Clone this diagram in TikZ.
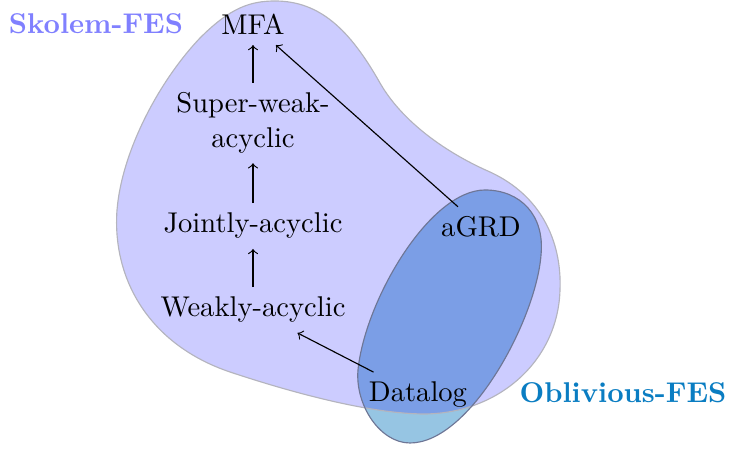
\documentclass[tikz,border=0pt]{standalone}
\definecolor{skolemfill}{RGB}{204,204,255}
\definecolor{oblfill}{RGB}{150,197,227}
\definecolor{overlapfill}{RGB}{123,158,230}
\definecolor{skolemtext}{RGB}{128,128,255}
\definecolor{obltext}{RGB}{10,125,194}
\definecolor{blobline}{RGB}{180,180,190}
\definecolor{ellline}{RGB}{110,118,150}
\begin{document}
\begin{tikzpicture}[x=0.35pt,y=-0.35pt,
  cls/.style={inner sep=3.33pt},
  regtitle/.style={font=\bfseries, inner sep=0pt},
  link/.style={->, line width=0.4pt}]
\useasboundingbox (0,0) rectangle (729,451);
% Skolem-FES region
\fill[skolemfill] (275,1) .. controls (320,1) and (350,30) .. (380,83)
  .. controls (400,118) and (440,150) .. (490,172)
  .. controls (540,195) and (562,240) .. (560,290)
  .. controls (558,360) and (500,413) .. (425,414)
  .. controls (370,414) and (290,392) .. (230,372)
  .. controls (150,345) and (112,280) .. (117,210)
  .. controls (122,150) and (160,80) .. (200,38)
  .. controls (230,8) and (250,1) .. (275,1) -- cycle;
% Oblivious-FES region
\fill[oblfill] (485,190) .. controls (520,190) and (545,215) .. (541,255)
  .. controls (536,320) and (470,443) .. (410,443)
  .. controls (380,443) and (355,405) .. (358,370)
  .. controls (365,300) and (430,190) .. (485,190) -- cycle;
\begin{scope}
\clip (275,1) .. controls (320,1) and (350,30) .. (380,83)
  .. controls (400,118) and (440,150) .. (490,172)
  .. controls (540,195) and (562,240) .. (560,290)
  .. controls (558,360) and (500,413) .. (425,414)
  .. controls (370,414) and (290,392) .. (230,372)
  .. controls (150,345) and (112,280) .. (117,210)
  .. controls (122,150) and (160,80) .. (200,38)
  .. controls (230,8) and (250,1) .. (275,1) -- cycle;
\fill[overlapfill] (485,190) .. controls (520,190) and (545,215) .. (541,255)
  .. controls (536,320) and (470,443) .. (410,443)
  .. controls (380,443) and (355,405) .. (358,370)
  .. controls (365,300) and (430,190) .. (485,190) -- cycle;
\end{scope}
\draw[blobline, line width=0.4pt] (275,1) .. controls (320,1) and (350,30) .. (380,83)
  .. controls (400,118) and (440,150) .. (490,172)
  .. controls (540,195) and (562,240) .. (560,290)
  .. controls (558,360) and (500,413) .. (425,414)
  .. controls (370,414) and (290,392) .. (230,372)
  .. controls (150,345) and (112,280) .. (117,210)
  .. controls (122,150) and (160,80) .. (200,38)
  .. controls (230,8) and (250,1) .. (275,1) -- cycle;
\draw[ellline, line width=0.4pt] (485,190) .. controls (520,190) and (545,215) .. (541,255)
  .. controls (536,320) and (470,443) .. (410,443)
  .. controls (380,443) and (355,405) .. (358,370)
  .. controls (365,300) and (430,190) .. (485,190) -- cycle;
% titles
\node[regtitle, text=skolemtext, anchor=base] (skl) at (96,34) {Skolem-FES};
\node[regtitle, text=obltext, anchor=base] (obl) at (623,403) {Oblivious-FES};
% classes
\node[cls, anchor=base] (mfa) at (253,35) {MFA};
\node[cls, align=center] (swa) at (253,123) {Super-weak-\\acyclic};
\node[cls, anchor=base] (ja) at (253,233) {Jointly-acyclic};
\node[cls, anchor=base] (wa) at (253,317) {Weakly-acyclic};
\node[cls, anchor=base] (agrd) at (481,237) {aGRD};
\node[cls, anchor=base] (dl) at (418,402) {Datalog};
% links
\draw[link] (swa) -- (mfa);
\draw[link] (ja) -- (swa);
\draw[link] (wa) -- (ja);
\draw[link] (agrd) -- (mfa);
\draw[link] (dl) -- (wa);
\end{tikzpicture}
\end{document}
